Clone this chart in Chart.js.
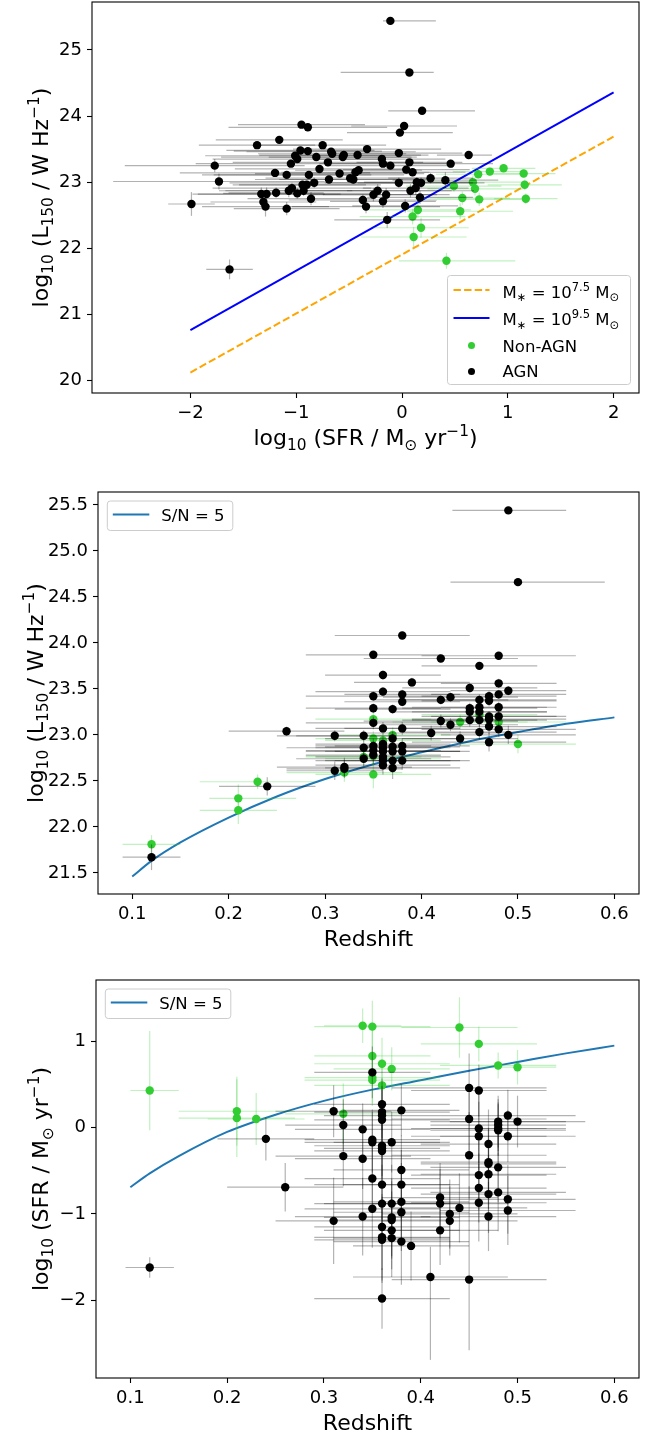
<!DOCTYPE html>
<html>
<head>
<meta charset="utf-8">
<script src="https://cdn.jsdelivr.net/npm/chart.js@4.4.1/dist/chart.umd.min.js"></script>
<style>
  body { margin: 0; background: #fff; }
  #wrap { position: relative; width: 656px; height: 1437px; }
  canvas { position: absolute; left: 0; }
</style>
</head>
<body>
<div id="wrap">
  <canvas id="c1" width="656" height="460" style="top:0px"></canvas>
  <canvas id="c2" width="656" height="490" style="top:460px"></canvas>
  <canvas id="c3" width="656" height="487" style="top:950px"></canvas>
</div>
<script>
// ---- top panel: SFR vs L150 ----
const p1AgnSfr = [-1.99,-1.77,-1.73,-1.63,-1.37,-1.16,-0.95,-0.89,-1.33,-1.28,-1.31,-1.29,-1.09,-1.19,-1.20,-1.09,-1.05,-1.01,-0.99,-0.96,-0.89,-0.81,-0.75,-0.67,-0.66,-0.70,-0.78,-0.88,-0.83,-0.90,-0.94,-0.93,-0.99,-1.04,-1.07,-0.86,-0.69,-0.59,-0.56,-0.55,-0.42,-0.33,-0.49,-0.46,-0.44,-0.41,-0.37,-0.34,-0.11,0.07,0.19,0.02,-0.02,0.63,-0.19,-0.18,-0.11,-0.03,0.07,0.04,0.10,0.46,-0.03,0.14,0.18,0.27,0.41,0.08,0.13,-0.27,-0.23,-0.15,-0.18,0.03,0.17,-0.14];
const p1AgnLum = [22.67,23.25,23.01,21.68,23.56,23.64,23.87,23.83,22.82,22.82,22.70,22.63,22.60,22.84,23.14,23.11,23.28,23.40,23.35,23.48,23.47,23.38,23.56,23.46,23.43,23.30,23.20,23.11,22.99,22.96,22.96,22.87,22.83,22.91,22.87,22.75,23.04,23.13,23.38,23.41,23.41,23.50,23.06,23.04,23.15,23.18,22.73,22.63,25.44,24.66,24.08,23.85,23.75,23.41,23.35,23.28,23.25,23.44,23.30,23.19,23.15,23.28,22.99,23.00,22.99,23.06,23.03,22.87,22.91,22.81,22.87,22.81,22.71,22.64,22.77,22.43];
const p1AgnSfrErr = [0.22,0.85,1.0,0.22,0.55,0.6,0.6,0.75,0.6,0.7,0.5,0.6,0.5,0.45,0.9,0.8,0.9,0.85,0.8,0.7,0.7,0.9,0.6,0.8,0.7,0.9,0.8,0.9,0.8,0.7,0.6,0.8,0.7,0.75,0.6,0.6,0.7,0.8,0.7,0.8,0.6,0.7,0.8,0.7,0.7,0.6,0.7,0.7,[0.07,0.43],[0.65,0.23],[0.32,0.5],0.5,0.5,[0.3,0.22],0.6,0.6,0.6,0.6,0.5,0.6,0.5,0.4,0.7,0.5,0.6,0.4,0.5,0.6,0.5,0.6,0.7,0.6,0.5,0.5,0.5,0.5];
const p1AgnLumErr = [0.18,0.10,0.12,0.15,0.05,0.05,0.05,0.05,0.1,0.1,0.1,0.15,0.1,0.08,0.05,0.05,0.05,0.05,0.05,0.05,0.05,0.05,0.05,0.05,0.05,0.05,0.05,0.06,0.08,0.06,0.06,0.08,0.08,0.08,0.1,0.1,0.06,0.05,0.05,0.05,0.05,0.05,0.06,0.06,0.06,0.06,0.08,0.1,0.03,0.03,0.04,0.05,0.05,0.05,0.05,0.05,0.05,0.05,0.05,0.06,0.06,0.06,0.08,0.08,0.08,0.08,0.12,0.1,0.1,0.1,0.1,0.1,0.1,0.1,0.1,0.12];
const p1SfSfr = [0.49,0.72,0.83,0.96,1.15,1.16,1.17,0.67,0.69,0.57,0.73,0.55,0.15,0.10,0.18,0.11,0.42];
const p1SfLum = [22.94,23.12,23.16,23.21,23.13,22.96,22.75,23.00,22.90,22.76,22.74,22.56,22.58,22.48,22.31,22.17,21.81];
const p1SfSfrErr = [0.45,0.4,0.35,0.3,0.3,0.35,0.3,0.5,0.45,0.45,0.4,0.5,0.5,0.5,0.45,0.5,[0.45,0.65]];
const p1SfLumErr = [0.08,0.06,0.06,0.05,0.06,0.08,0.08,0.1,0.1,0.1,0.1,0.12,0.12,0.12,0.15,0.15,0.12];
const massLineSfr = [-2, 2];
const mass75Lum = [20.12, 23.69];
const mass95Lum = [20.76, 24.36];

// ---- middle panel: redshift vs L150 ----
const p2AgnZ = [0.12,0.24,0.26,0.31,0.31,0.32,0.32,0.34,0.34,0.34,0.38,0.35,0.42,0.48,0.46,0.36,0.39,0.36,0.38,0.35,0.38,0.35,0.37,0.42,0.43,0.45,0.48,0.49,0.48,0.47,0.47,0.46,0.45,0.45,0.46,0.46,0.48,0.47,0.47,0.48,0.45,0.46,0.42,0.43,0.46,0.47,0.48,0.49,0.47,0.44,0.41,0.35,0.36,0.38,0.37,0.35,0.35,0.35,0.36,0.36,0.36,0.36,0.36,0.36,0.37,0.37,0.37,0.37,0.38,0.38,0.38,0.49,0.50];
const p2AgnLum = [21.67,22.44,23.04,22.99,22.61,22.65,22.63,22.99,22.86,22.74,24.08,23.87,23.83,23.86,23.75,23.65,23.57,23.47,23.44,23.42,23.36,23.29,23.28,23.38,23.41,23.51,23.56,23.48,23.44,23.42,23.37,23.38,23.29,23.25,23.30,23.25,23.30,23.20,23.17,23.20,23.16,23.16,23.15,23.11,23.03,23.09,23.06,23.00,22.92,22.96,23.02,23.13,23.07,23.07,22.96,22.88,22.83,22.78,22.90,22.86,22.82,22.76,22.72,22.67,22.87,22.82,22.72,22.64,22.88,22.82,22.72,25.44,24.66];
const p2AgnZErr = [0.03,0.05,0.06,0.06,0.05,0.07,0.06,0.07,0.08,0.07,0.07,0.07,0.08,0.08,0.06,0.06,0.06,0.07,0.06,0.07,0.06,0.07,0.06,0.07,0.07,0.07,0.06,0.06,0.07,0.07,0.07,0.08,0.07,0.08,0.07,0.07,0.06,0.07,0.08,0.07,0.07,0.07,0.08,0.07,0.08,0.07,0.08,0.07,0.08,0.06,0.07,0.07,0.07,0.06,0.07,0.06,0.07,0.07,0.07,0.07,0.08,0.07,0.07,0.07,0.07,0.07,0.07,0.07,0.07,0.07,0.07,[0.058,0.06],[0.07,0.09]];
const p2AgnLumErr = [0.14,0.1,0.05,0.06,0.1,0.1,0.1,0.06,0.08,0.08,0.04,0.04,0.04,0.04,0.04,0.05,0.05,0.05,0.05,0.05,0.05,0.05,0.05,0.05,0.05,0.05,0.05,0.05,0.05,0.06,0.06,0.06,0.06,0.06,0.06,0.06,0.06,0.06,0.06,0.06,0.07,0.07,0.07,0.07,0.08,0.08,0.08,0.1,0.1,0.08,0.08,0.07,0.07,0.07,0.08,0.08,0.08,0.1,0.08,0.08,0.1,0.1,0.1,0.1,0.08,0.1,0.1,0.12,0.08,0.1,0.1,0.03,0.03];
const p2SfZ = [0.12,0.21,0.21,0.23,0.32,0.34,0.35,0.35,0.36,0.37,0.35,0.36,0.35,0.44,0.46,0.48,0.50];
const p2SfLum = [21.81,22.31,22.18,22.49,22.59,22.76,23.17,22.96,22.94,23.00,22.77,22.74,22.57,23.14,23.22,23.14,22.90];
const p2SfZErr = [0.03,[0.03,0.06],0.04,0.06,0.06,0.06,0.06,0.06,0.06,0.06,0.07,0.06,0.06,0.07,0.06,0.07,0.06];
const p2SfLumErr = [0.1,0.15,0.15,0.08,0.1,0.1,0.08,0.08,0.08,0.08,0.1,0.1,0.15,0.08,0.08,0.08,0.1];

// ---- bottom panel: redshift vs SFR ----
const p3AgnZ = [0.12,0.24,0.26,0.31,0.32,0.32,0.34,0.34,0.31,0.34,0.35,0.36,0.36,0.36,0.36,0.38,0.35,0.35,0.36,0.36,0.36,0.37,0.38,0.35,0.36,0.38,0.36,0.37,0.38,0.38,0.35,0.37,0.37,0.36,0.37,0.36,0.36,0.37,0.38,0.39,0.36,0.41,0.45,0.42,0.42,0.43,0.43,0.42,0.44,0.45,0.46,0.45,0.45,0.46,0.46,0.47,0.48,0.48,0.48,0.48,0.49,0.50,0.49,0.47,0.47,0.48,0.47,0.46,0.46,0.47,0.48,0.46,0.49,0.49,0.47];
const p3AgnSfr = [-1.62,-0.13,-0.69,0.19,0.03,-0.33,-0.02,-0.36,-1.08,-1.03,0.64,0.27,0.18,0.14,0.09,0.20,-0.14,-0.17,-0.21,-0.24,-0.27,-0.17,-0.49,-0.59,-0.66,-0.66,-0.88,-0.88,-0.86,-0.98,-0.94,-1.04,-1.07,-1.15,-1.19,-1.27,-1.30,-1.28,-1.32,-1.37,-1.98,-1.73,-1.76,-0.81,-0.88,-1.00,-1.08,-1.19,-0.93,0.46,0.43,0.10,-0.32,-0.01,-0.10,-0.19,0.07,0.03,-0.01,-0.03,0.14,0.07,-0.10,-0.40,-0.42,-0.46,-0.54,-0.55,-0.70,-0.77,-0.75,-0.87,-0.83,-0.96,-1.03];
const p3AgnZErr = [0.025,0.05,0.06,0.06,0.06,0.07,0.07,0.07,0.06,0.07,0.06,0.07,0.07,0.06,0.07,0.06,0.07,0.07,0.07,0.06,0.07,0.06,0.07,0.07,0.07,0.06,0.07,0.07,0.07,0.07,0.07,0.07,0.06,0.07,0.07,0.07,0.07,0.06,0.07,0.06,0.07,0.08,0.08,0.06,0.07,0.07,0.07,0.06,0.07,0.08,0.07,0.08,0.08,0.07,0.07,0.07,0.07,0.07,0.07,0.07,0.07,0.07,0.07,0.07,0.07,0.07,0.07,0.07,0.07,0.07,0.07,0.07,0.07,0.07,0.07];
const p3AgnSfrErr = [0.12,0.25,0.28,0.3,0.3,0.35,0.3,0.35,0.5,0.45,0.3,0.3,0.3,0.3,0.35,0.3,0.35,0.35,0.35,0.35,0.35,0.35,0.4,0.4,0.4,0.4,0.45,0.45,0.45,0.45,0.45,0.45,0.45,0.5,0.45,0.5,0.5,0.45,0.5,0.4,0.35,[0.96,0.35],[0.82,1.08],0.4,0.4,0.4,0.4,0.4,0.4,0.4,0.3,0.4,0.5,0.4,0.4,0.4,0.3,0.3,0.3,0.3,0.3,0.3,0.3,0.4,0.4,0.4,0.4,0.4,0.4,0.45,0.45,0.45,0.4,0.4,0.4];
const p3SfZ = [0.12,0.21,0.21,0.23,0.32,0.34,0.35,0.35,0.36,0.37,0.35,0.35,0.36,0.44,0.46,0.48,0.50];
const p3SfSfr = [0.43,0.19,0.11,0.10,0.16,1.18,1.17,0.83,0.74,0.68,0.58,0.55,0.49,1.16,0.97,0.72,0.70];
const p3SfZErr = [[0.02,0.03],0.06,0.06,0.05,0.06,0.04,0.06,0.06,0.07,0.06,0.07,0.07,0.07,0.06,0.06,0.06,0.04];
const p3SfSfrErr = [[0.46,0.69],0.4,0.45,0.3,0.35,0.2,0.3,0.3,0.3,0.25,0.3,0.3,0.3,0.35,0.2,0.15,0.2];

// S/N = 5 detection limit
const snZ = [0.10,0.12,0.15,0.20,0.25,0.30,0.35,0.40,0.45,0.50,0.55,0.60];
const snLum = [21.46,21.63,21.83,22.10,22.33,22.52,22.68,22.81,22.93,23.03,23.12,23.19];
const snSfr = [-0.69,-0.53,-0.33,-0.05,0.15,0.31,0.44,0.55,0.66,0.76,0.86,0.95];

// ticks
const p1XTicks = [-2,-1,0,1,2];
const p1YTicks = [20,21,22,23,24,25];
const zTicks = [0.1,0.2,0.3,0.4,0.5,0.6];
const p2YTicks = [21.5,22.0,22.5,23.0,23.5,24.0,24.5,25.0,25.5];
const p3YTicks = [-2,-1,0,1];

// labels ('' normal, 'sub', 'sup')
const titleSfr = [['log',''],['10','sub'],[' (SFR / M',''],['\u2299','sub'],[' yr',''],['\u22121','sup'],[')','']];
const titleLum = [['log',''],['10','sub'],[' (L',''],['150','sub'],[' / W Hz',''],['\u22121','sup'],[')','']];
const titleZ = [['Redshift','']];
const labelMass75 = [['M',''],['\u2217','sub'],[' = 10',''],['7.5','sup'],[' M',''],['\u2299','sub']];
const labelMass95 = [['M',''],['\u2217','sub'],[' = 10',''],['9.5','sup'],[' M',''],['\u2299','sub']];
const labelSf = 'Non-AGN';
const labelAgn = 'AGN';
const labelSn = 'S/N = 5';

const FONT = "'DejaVu Sans', sans-serif";
const GREEN = '#32cd32';

function fmt(v, d) { return (v < 0 ? '\u2212' : '') + Math.abs(v).toFixed(d); }
function pts(xs, ys) { return xs.map((x, i) => ({ x: x, y: ys[i] })); }
function pair(e) { return Array.isArray(e) ? e : [e, e]; }

function drawRich(ctx, parts, x, y, size, align) {
  const base = y + 0.364 * size;
  let w = 0;
  parts.forEach(p => { ctx.font = (p[1] ? size * 0.7 : size) + 'px ' + FONT; w += ctx.measureText(p[0]).width; });
  let cx = align === 'center' ? x - w / 2 : x;
  ctx.textAlign = 'left';
  ctx.textBaseline = 'alphabetic';
  parts.forEach(p => {
    ctx.font = (p[1] ? size * 0.7 : size) + 'px ' + FONT;
    let dy = 0;
    if (p[1] === 'sub') dy = 0.22 * size;
    if (p[1] === 'sup') dy = -0.42 * size;
    ctx.fillText(p[0], cx, base + dy);
    cx += ctx.measureText(p[0]).width;
  });
}

// error bars drawn just before each dataset's points
const errorBars = {
  id: 'errorBars',
  beforeDatasetDraw(chart, args) {
    const ds = chart.data.datasets[args.index];
    if (!ds.errX) return;
    const xs = chart.scales.x, ys = chart.scales.y, c = chart.ctx, a = chart.chartArea;
    c.save();
    c.beginPath();
    c.rect(a.left, a.top, a.right - a.left, a.bottom - a.top);
    c.clip();
    c.strokeStyle = ds.errColor;
    c.lineWidth = 1.2;
    ds.data.forEach((p, i) => {
      const ex = pair(ds.errX[i]), ey = pair(ds.errY[i]);
      const px = xs.getPixelForValue(p.x), py = ys.getPixelForValue(p.y);
      c.beginPath();
      c.moveTo(xs.getPixelForValue(p.x - ex[0]), py);
      c.lineTo(xs.getPixelForValue(p.x + ex[1]), py);
      c.stroke();
      c.beginPath();
      c.moveTo(px, ys.getPixelForValue(p.y - ey[0]));
      c.lineTo(px, ys.getPixelForValue(p.y + ey[1]));
      c.stroke();
    });
    c.restore();
  }
};
Chart.register(errorBars);

function scatterSet(xs, ys, ex, ey, color, errColor) {
  return { data: pts(xs, ys), errX: ex, errY: ey, errColor: errColor,
    backgroundColor: color, pointRadius: 4.2, pointHoverRadius: 4.2, borderWidth: 0 };
}
function lineSet(xs, ys, color, dash) {
  return { data: pts(xs, ys), showLine: true, pointRadius: 0, borderColor: color,
    borderWidth: 2, borderDash: dash, fill: false, cubicInterpolationMode: 'monotone' };
}

function axis(min, max, ticks, dec, fit) {
  return {
    type: 'linear', min: min, max: max,
    afterBuildTicks: s => { s.ticks = ticks.map(v => ({ value: v })); },
    afterFit: fit,
    grid: { display: true, drawOnChartArea: false, drawTicks: true, tickLength: 5, color: '#000', tickColor: '#000', tickWidth: 1.1 },
    border: { display: false },
    ticks: { font: { family: FONT, size: 18 }, color: '#000', padding: 5, autoSkip: false, maxRotation: 0,
      callback: v => fmt(v, dec) }
  };
}

function legendFrame(c, x, y, w, h) {
  c.beginPath();
  c.roundRect(x, y, w, h, 3);
  c.fillStyle = 'rgba(255,255,255,0.8)';
  c.fill();
  c.strokeStyle = '#cccccc';
  c.lineWidth = 1;
  c.stroke();
}
function legendLine(c, x1, x2, y, color, dash) {
  c.beginPath();
  c.setLineDash(dash);
  c.strokeStyle = color;
  c.lineWidth = 2;
  c.moveTo(x1, y);
  c.lineTo(x2, y);
  c.stroke();
  c.setLineDash([]);
}
function legendDot(c, x, y, color) {
  c.beginPath();
  c.arc(x, y, 3.5, 0, Math.PI * 2);
  c.fillStyle = color;
  c.fill();
}

function legendTop(c, a) {
  const w = 183, h = 109, x = a.right - 8.5 - w, y = a.bottom - 8.5 - h;
  legendFrame(c, x, y, w, h);
  legendLine(c, x + 6, x + 42, y + 14.5, '#ffa500', [7.4, 3.2]);
  legendLine(c, x + 6, x + 42, y + 42.5, '#0000ff', []);
  legendDot(c, x + 24, y + 70, GREEN);
  legendDot(c, x + 24, y + 96, '#000');
  c.fillStyle = '#000';
  drawRich(c, labelMass75, x + 55, y + 16, 16.5, 'left');
  drawRich(c, labelMass95, x + 55, y + 43.5, 16.5, 'left');
  drawRich(c, [[labelSf, '']], x + 55, y + 70, 16.5, 'left');
  drawRich(c, [[labelAgn, '']], x + 55, y + 95, 16.5, 'left');
}
function legendSn(c, a) {
  const x = a.left + 9.3, y = a.top + 9, w = 125.5, h = 29.5;
  legendFrame(c, x, y, w, h);
  legendLine(c, x + 5.5, x + 42, y + 13.5, '#1f77b4', []);
  c.fillStyle = '#000';
  drawRich(c, [[labelSn, '']], x + 54, y + 14, 16.5, 'left');
}

function makeChart(id, o) {
  const canvas = document.getElementById(id);
  const H = canvas.height;
  const deco = {
    id: 'deco',
    afterDatasetsDraw(chart) {
      const c = chart.ctx, a = chart.chartArea;
      c.save();
      c.strokeStyle = '#000';
      c.lineWidth = 1.1;
      c.strokeRect(a.left, a.top, a.right - a.left, a.bottom - a.top);
      c.fillStyle = '#000';
      drawRich(c, o.xTitle, (a.left + a.right) / 2, a.bottom + 44, 22, 'center');
      c.translate(o.yTitleX, (a.top + a.bottom) / 2);
      c.rotate(-Math.PI / 2);
      drawRich(c, o.yTitle, 0, 0, 22, 'center');
      c.restore();
      c.save();
      o.legend(c, a);
      c.restore();
    }
  };
  return new Chart(canvas, {
    type: 'scatter',
    data: { datasets: o.datasets },
    options: {
      responsive: false, animation: false, devicePixelRatio: 1,
      layout: { autoPadding: false, padding: { top: o.top, right: 656 - o.right, left: 0, bottom: 0 } },
      plugins: { legend: { display: false }, tooltip: { enabled: false } },
      scales: {
        x: axis(o.xMin, o.xMax, o.xTicks, o.xDec, s => {
          s.height = H - o.bottom; s.paddingLeft = 0; s.paddingRight = 0; }),
        y: axis(o.yMin, o.yMax, o.yTicks, o.yDec, s => {
          s.width = o.left; s.paddingTop = 0; s.paddingBottom = 0; })
      }
    },
    plugins: [deco]
  });
}

const BLACK_ERR = 'rgba(0,0,0,0.3)';
const GREEN_ERR = 'rgba(50,205,50,0.3)';

makeChart('c1', {
  top: 2, bottom: 393, left: 92, right: 639,
  xMin: -2.93, xMax: 2.24, yMin: 19.81, yMax: 25.726,
  xTicks: p1XTicks, yTicks: p1YTicks, xDec: 0, yDec: 0,
  xTitle: titleSfr, yTitle: titleLum, yTitleX: 40, legend: legendTop,
  datasets: [
    scatterSet(p1AgnSfr, p1AgnLum, p1AgnSfrErr, p1AgnLumErr, '#000', BLACK_ERR),
    scatterSet(p1SfSfr, p1SfLum, p1SfSfrErr, p1SfLumErr, GREEN, GREEN_ERR),
    lineSet(massLineSfr, mass95Lum, '#0000ff', []),
    lineSet(massLineSfr, mass75Lum, '#ffa500', [7.4, 3.2])
  ]
});

makeChart('c2', {
  top: 32, bottom: 434, left: 98, right: 639,
  xMin: 0.0645, xMax: 0.6255, yMin: 21.27, yMax: 25.64,
  xTicks: zTicks, yTicks: p2YTicks, xDec: 1, yDec: 1,
  xTitle: titleZ, yTitle: titleLum, yTitleX: 35, legend: legendSn,
  datasets: [
    scatterSet(p2AgnZ, p2AgnLum, p2AgnZErr, p2AgnLumErr, '#000', BLACK_ERR),
    scatterSet(p2SfZ, p2SfLum, p2SfZErr, p2SfLumErr, GREEN, GREEN_ERR),
    lineSet(snZ, snLum, '#1f77b4', [])
  ]
});

makeChart('c3', {
  top: 30, bottom: 428, left: 96, right: 639,
  xMin: 0.0645, xMax: 0.6255, yMin: -2.9, yMax: 1.71,
  xTicks: zTicks, yTicks: p3YTicks, xDec: 1, yDec: 0,
  xTitle: titleZ, yTitle: titleSfr, yTitleX: 40, legend: legendSn,
  datasets: [
    scatterSet(p3AgnZ, p3AgnSfr, p3AgnZErr, p3AgnSfrErr, '#000', BLACK_ERR),
    scatterSet(p3SfZ, p3SfSfr, p3SfZErr, p3SfSfrErr, GREEN, GREEN_ERR),
    lineSet(snZ, snSfr, '#1f77b4', [])
  ]
});
</script>
</body>
</html>
